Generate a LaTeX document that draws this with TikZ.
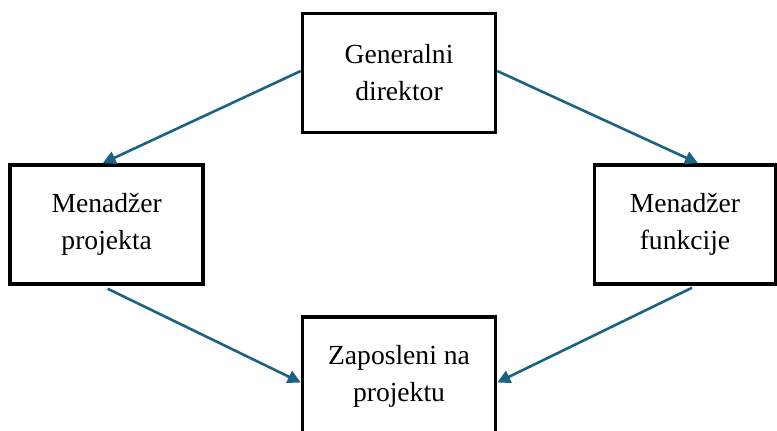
\documentclass[tikz,border=0pt]{standalone}
\usepackage{fontspec}
\setmainfont{Liberation Serif}
\usetikzlibrary{arrows.meta}
\definecolor{arr}{RGB}{28,98,132}
\begin{document}
\begin{tikzpicture}[x=1pt,y=-1pt,
  box/.style={draw=black,line width=3.5pt,fill=white,align=center,inner sep=0pt,
    font=\fontsize{27.6}{37}\selectfont,minimum height=119pt},
  conn/.style={draw=arr,line width=2.6pt,-{Triangle[length=13pt,width=13pt]}}]
\useasboundingbox (0,0) rectangle (777,431);
\node[box,minimum width=193pt] (gd) at (399,73) {Generalni\\direktor};
\node[box,minimum width=193pt] (pm) at (106.7,224.5) {Menadžer\\projekta};
\node[box,minimum width=180.6pt] (mf) at (685,224.5) {Menadžer\\funkcije};
\node[box,minimum width=193pt] (zp) at (399,376.5) {Zaposleni na\\projektu};
\draw[conn] ([yshift=2pt]gd.west) -- ([xshift=-4pt]pm.north);
\draw[conn] ([yshift=2pt]gd.east) -- ([xshift=13pt]mf.north);
\draw[conn] ([xshift=1pt,yshift=-3pt]pm.south) -- ([yshift=-6pt]zp.west);
\draw[conn] ([xshift=7pt,yshift=-2pt]mf.south) -- ([yshift=-6pt]zp.east);
\end{tikzpicture}
\end{document}
